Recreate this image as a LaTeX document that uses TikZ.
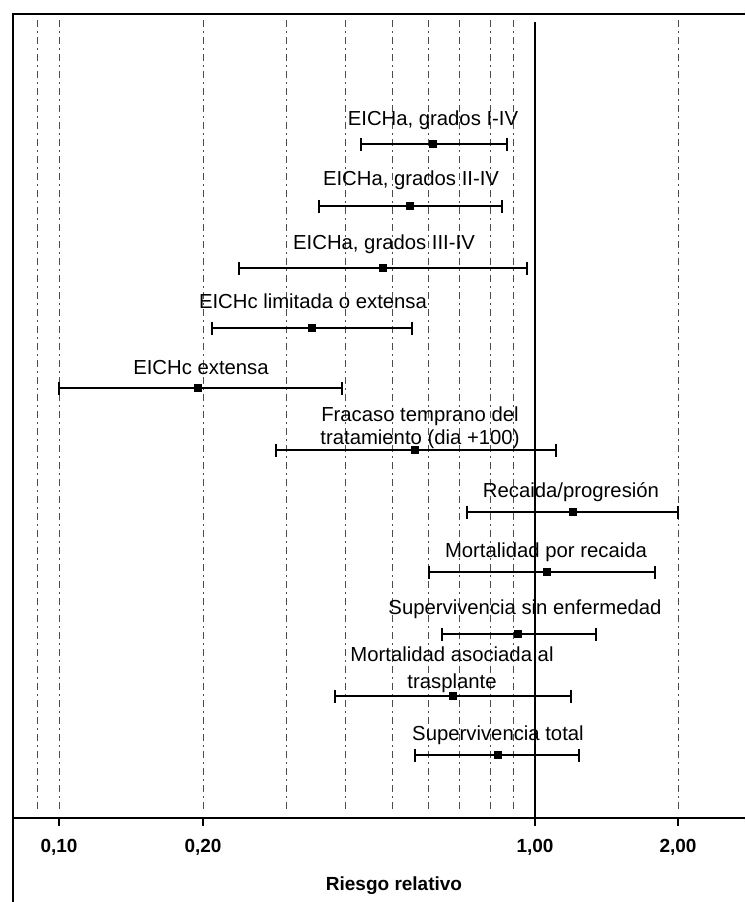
\documentclass[tikz,border=0pt]{standalone}
\usepackage{fontspec}
\setmainfont{Liberation Sans}
\begin{document}
\begin{tikzpicture}[x=1pt,y=-1pt,
  gridline/.style={line width=0.8pt, black!70, dash pattern=on 7pt off 4pt on 2pt off 4pt},
  framerule/.style={line width=2.5pt, black},
  axisrule/.style={line width=2pt, black},
  refrule/.style={line width=1.5pt, black},
  cibar/.style={line width=1.4pt, black},
  cithick/.style={line width=2.6pt, black},
  endtick/.style={line width=1.4pt, black},
  estbox/.style={rectangle, fill=black, draw=none, minimum size=8pt, inner sep=0pt},
  lab/.style={font=\fontsize{20.3}{23}\selectfont, anchor=base, inner sep=0pt},
  lab2/.style={font=\fontsize{20.3}{23}\selectfont, align=center, inner sep=0pt},
  ticklab/.style={font=\bfseries\fontsize{19}{22}\selectfont, anchor=base, inner sep=0pt},
]
\useasboundingbox (0,0) rectangle (745,902);
\fill[white] (0,0) rectangle (745,902);

% grid lines
\foreach \gx in {37,59,203,286,345,392,428,459,490,513,678}
  \draw[gridline] (\gx,20) -- (\gx,812);

% frame and axis
\coordinate (tl) at (13,14);
\coordinate (tr) at (745,14);
\coordinate (bl) at (13,902);
\draw[framerule] (tr) -- (tl) -- (bl);
\coordinate (axl) at (13,818);
\coordinate (axr) at (745,818);
\draw[axisrule] (axl) -- (axr);
\coordinate (reftop) at (535,22);
\coordinate (refbot) at (535,818);
\draw[refrule] (reftop) -- (refbot);

% axis ticks and labels
\foreach \tx/\tl in {59/{0,10},203/{0,20},535/{1,00},678/{2,00}}{
  \draw[line width=1.5pt] (\tx,818) -- (\tx,826);
  \node[ticklab] at (\tx,852) {\tl};
}
\node[ticklab] (xlabel) at (394,890) {Riesgo relativo};

% rows: coordinates of CI ends, estimate boxes
\foreach \n/\yy/\lo/\est/\hi in {
  r2/206/319/410/502,
  r3/268/239/383/527,
  r4/328/212/312/412,
  r5/388/59/198/342,
  r6/450/276/415/556,
  r7/512/467/573/678,
  r8/572/429/547/655,
  r9/634/442/518/596,
  r10/696/335/453/571,
  r11/755/415/498/579}{
  \coordinate (\n lo) at (\lo,\yy);
  \coordinate (\n hi) at (\hi,\yy);
  \draw[cibar] (\n lo) -- (\n hi);
  \draw[endtick] ([yshift=6.5pt]\n lo) -- ([yshift=-6.5pt]\n lo);
  \draw[endtick] ([yshift=6.5pt]\n hi) -- ([yshift=-6.5pt]\n hi);
  \node[estbox] (\n est) at (\est,\yy) {};
}
\coordinate (r1lo) at (361,144);
\coordinate (r1hi) at (507,144);
\draw[cithick] (r1lo) -- (r1hi);
\draw[endtick] ([yshift=6.5pt]r1lo) -- ([yshift=-6.5pt]r1lo);
\draw[endtick] ([yshift=6.5pt]r1hi) -- ([yshift=-6.5pt]r1hi);
\node[estbox] (r1est) at (433,144) {};

% labels
\node[lab] (l1) at (433,125) {EICHa, grados I-IV};
\node[lab] (l2) at (411,185) {EICHa, grados II-IV};
\node[lab] (l3) at (384,249) {EICHa, grados III-IV};
\node[lab] (l4) at (313,308) {EICHc limitada o extensa};
\node[lab] (l5) at (201,374) {EICHc extensa};
\node[lab2] (l6) at (420,428) {Fracaso temprano del\\tratamiento (dia +100)};
\node[lab] (l7) at (571,497) {Recaida/progresión};
\node[lab] (l8) at (546,557) {Mortalidad por recaida};
\node[lab] (l9) at (525,614) {Supervivencia sin enfermedad};
\node[lab2, font=\fontsize{20.3}{27}\selectfont] (l10) at (452,670) {Mortalidad asociada al\\trasplante};
\node[lab] (l11) at (498,740) {Supervivencia total};
\end{tikzpicture}
\end{document}
